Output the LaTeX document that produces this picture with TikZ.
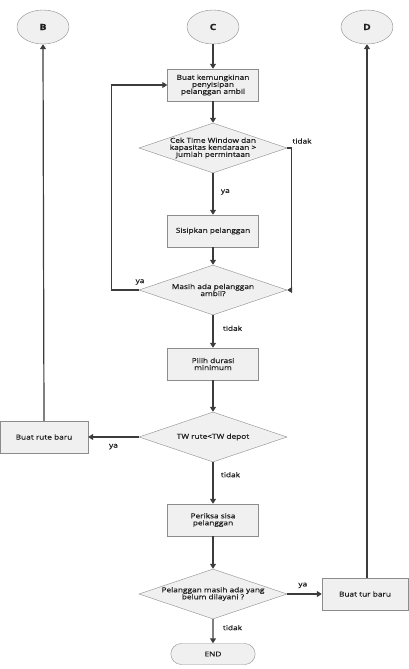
\documentclass[tikz,border=0pt]{standalone}
\usepackage{fontspec}
\setmainfont[FakeStretch=1.22, FakeBold=0.6]{Open Sans}
\usepackage{tikz}
\usetikzlibrary{shapes.geometric, shapes.misc, arrows, arrows.meta}
\definecolor{LINE}{HTML}{3C3C3C}
\definecolor{TEXT}{HTML}{202020}
\definecolor{EDGE}{HTML}{8C8C8C}
\definecolor{FILL}{HTML}{F0F0F0}
\tikzset{
    proc/.style={draw=EDGE, fill=FILL, rectangle, minimum width=91pt, minimum height=32pt, align=center, inner sep=1pt},
    cond/.style={draw=EDGE, fill=FILL, diamond, aspect=2.96, minimum width=148pt, minimum height=50pt, align=center, inner sep=0pt},
    conn/.style={draw=EDGE, fill=FILL, ellipse, minimum width=52pt, minimum height=34pt, font=\fontsize{8.5}{9}\selectfont\bfseries},
    term/.style={draw=EDGE, fill=FILL, rounded rectangle, minimum width=91pt, minimum height=21pt},
    flow/.style={LINE, line width=1.2pt, -{Triangle[length=5pt,width=6pt]}},
    lbl/.style={font=\fontsize{6.8}{7}\selectfont, text=TEXT}
}
\begin{document}
\begin{tikzpicture}[x=1pt, y=-1pt, font=\fontsize{6.8}{7}\selectfont, text=TEXT]
    \useasboundingbox (0,0) rectangle (408,669);
    % connectors at the top
    \node[conn] (B) at (43,27) {B};
    \node[conn] (C) at (213,27) {C};
    \node[conn] (D) at (367,27) {D};
    % main column
    \node[proc] (buat) at (213,85) {Buat kemungkinan\\penyisipan\\pelanggan ambil};
    \node[cond] (cek) at (213,148) {Cek Time Window dan\\kapasitas kendaraan >\\jumlah permintaan};
    \node[proc] (sisip) at (213,231) {Sisipkan pelanggan};
    \node[cond] (masih) at (213,290) {Masih ada pelanggan\\ambil?};
    \node[proc] (pilih) at (213,364) {Pilih durasi\\minimum};
    \node[cond] (tw) at (213,437) {TW rute<TW depot};
    \node[proc] (periksa) at (213,520) {Periksa sisa\\pelanggan};
    \node[cond] (plg) at (213,594) {Pelanggan masih ada yang\\belum dilayani ?};
    \node[term] (end) at (213,654) {END};
    % side boxes
    \node[proc, minimum width=88pt] (rute) at (44,437) {Buat rute baru};
    \node[proc, minimum width=86pt] (tur) at (365,594) {Buat tur baru};
    %
    \draw[flow] (C) -- (buat);
    \draw[flow] (buat) -- (cek);
    \draw[flow] (cek) -- (sisip) node[lbl, pos=0.45, right=4pt] {ya};
    \draw[flow] (sisip) -- (masih);
    \draw[flow] (masih) -- (pilih) node[lbl, pos=0.4, right=6pt] {tidak};
    \draw[flow] (pilih) -- (tw);
    \draw[flow] (tw) -- (periksa) node[lbl, pos=0.3, right=4pt] {tidak};
    \draw[flow] (periksa) -- (plg);
    \draw[flow] (plg) -- (end) node[lbl, pos=0.35, right=6pt] {tidak};
    %
    \draw[flow] (masih.west) -- ++(-27,0) |- (buat.west);
    \node[lbl] at (140,282) {ya};
    \draw[flow] (cek.east) -- ++(4,0) |- (masih.east);
    \node[lbl] at (302,141) {tidak};
    %
    \draw[flow] (tw.west) -- (rute.east) node[lbl, midway, below=3pt] {ya};
    \draw[flow] (rute.north) -- (B.south);
    \draw[flow] (plg.east) -- (tur.west) node[lbl, pos=0.45, above=2pt] {ya};
    \draw[flow] (tur.north -| D) -- (D.south);
\end{tikzpicture}
\end{document}
